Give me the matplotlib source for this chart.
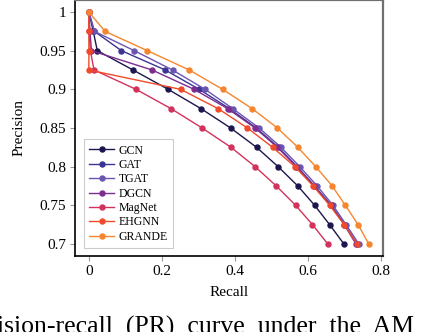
import numpy as np
import matplotlib
matplotlib.use('Agg')
import matplotlib.pyplot as plt

plt.rcParams['font.family'] = ['Liberation Serif', 'DejaVu Serif']
plt.rcParams['mathtext.fontset'] = 'stix'

# precision levels shared by all curves
precision = [1.0, 0.975, 0.95, 0.925, 0.9, 0.875, 0.85, 0.825, 0.8, 0.775, 0.75, 0.725, 0.7]

# recall, one list per model
gcn    = [0, 0.012, 0.023, 0.121, 0.217, 0.307, 0.388, 0.459, 0.518, 0.572, 0.618, 0.659, 0.698]
gat    = [0, 0.015, 0.089, 0.209, 0.302, 0.385, 0.458, 0.519, 0.570, 0.618, 0.663, 0.700, 0.734]
tgat   = [0, 0.015, 0.124, 0.229, 0.318, 0.394, 0.466, 0.526, 0.577, 0.625, 0.668, 0.704, 0.739]
dgcn   = [0, 0.003, 0.007, 0.173, 0.288, 0.380, 0.455, 0.516, 0.568, 0.616, 0.662, 0.699, 0.731]
magnet = [0, 0.0, 0.004, 0.014, 0.129, 0.225, 0.310, 0.389, 0.455, 0.513, 0.566, 0.612, 0.654]
ehgnn  = [0, 0.0, 0.0, 0.0, 0.251, 0.354, 0.434, 0.503, 0.564, 0.614, 0.659, 0.699, 0.734]
grande = [0, 0.044, 0.160, 0.275, 0.366, 0.447, 0.516, 0.572, 0.621, 0.666, 0.702, 0.737, 0.766]

names = ['GCN', 'GAT', 'TGAT', 'DGCN', 'MagNet', 'EHGNN', 'GRANDE']
curves = [gcn, gat, tgat, dgcn, magnet, ehgnn, grande]
colors = ['#1c1650', '#3b3494', '#6a55b2', '#7d2c90', '#d2325c', '#f04a2b', '#f5862f']

fig = plt.figure(figsize=(4.24, 3.32), dpi=100)
ax = fig.add_axes([75/424, 1 - 256/332, 308/424, 256/332])

for name, rec, c in zip(names, curves, colors):
    ax.plot(rec, precision, '-o', color=c, lw=1.0, ms=3.6, label=name)

ax.set_xlim(-0.038, 0.805)
ax.set_ylim(0.6845, 1.0155)
ax.set_xticks([0, 0.2, 0.4, 0.6, 0.8])
ax.set_xticklabels(['0', '0.2', '0.4', '0.6', '0.8'])
ax.set_yticks([0.7, 0.75, 0.8, 0.85, 0.9, 0.95, 1.0])
ax.set_yticklabels(['0.7', '0.75', '0.8', '0.85', '0.9', '0.95', '1'])
ax.tick_params(direction='out', length=3.5, width=0.8, color='#999999',
               labelsize=11, pad=3)
ax.set_xlabel('Recall', fontsize=11, labelpad=6)
ax.set_ylabel('Precision', fontsize=11, labelpad=10)

for s in ['left', 'bottom']:
    ax.spines[s].set_color('black')
    ax.spines[s].set_linewidth(1.2)
for s in ['top', 'right']:
    ax.spines[s].set_color('#707070')
    ax.spines[s].set_linewidth(1.6)

leg = ax.legend(loc='lower left', bbox_to_anchor=(0.029, 0.031), borderaxespad=0,
                fontsize=8.5, handlelength=2.1, handletextpad=0.4,
                labelspacing=0.2, fancybox=False, framealpha=1,
                edgecolor='#cccccc', borderpad=0.45)
leg.get_frame().set_linewidth(0.8)

# partial caption of the source figure, cut by the frame
fig.text(-0.006, 1 - 316/332, 'ision-recall  (PR)  curve  under  the  AM',
         fontsize=18.5, va='top', ha='left')

fig.savefig('out.png', dpi=100)
